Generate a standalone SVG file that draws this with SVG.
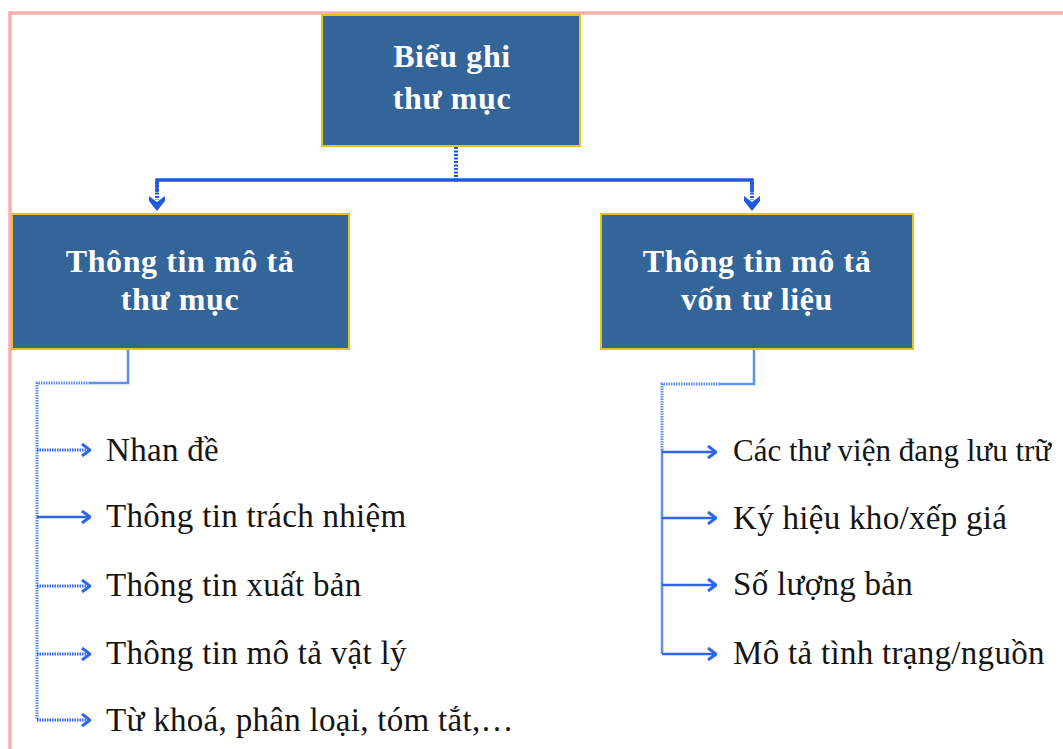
<svg xmlns="http://www.w3.org/2000/svg" width="1063" height="749" viewBox="0 0 1063 749">
<defs>
<style>
.box{fill:#336599;stroke:#e6c21a;stroke-width:2}
.bt{font-family:"Liberation Serif","Times New Roman",serif;font-size:32px;font-weight:bold;fill:#ffffff;text-anchor:middle;letter-spacing:0.6px}
.lt{font-family:"Liberation Serif","Times New Roman",serif;font-size:33px;fill:#151515;letter-spacing:0.3px}
.main{fill:none;stroke:#2158e0;stroke-width:3.5}
.stem{fill:none;stroke:#2158e0;stroke-width:4;stroke-dasharray:2 1.5}
.sub{fill:none;stroke:#5d8ff0;stroke-width:2.5}
.subd{fill:none;stroke:#5d8ff0;stroke-width:3;stroke-dasharray:1.5 1}
.br{fill:none;stroke:#2f66e8;stroke-width:2.5}
.brd{fill:none;stroke:#2f66e8;stroke-width:3;stroke-dasharray:1.5 1}
</style>
<marker id="ar" viewBox="0 0 12 14" refX="11" refY="7" markerWidth="12" markerHeight="14" markerUnits="userSpaceOnUse" orient="auto">
<path d="M3,1 L11,7 L3,13" fill="none" stroke="#2f66e8" stroke-width="3"/>
</marker>
</defs>
<rect width="1063" height="749" fill="#ffffff"/>
<path d="M10,760 L10,13 L1070,13" fill="none" stroke="#f7b0b0" stroke-width="3.5"/>

<g id="connectors">
<line class="stem" x1="456" y1="147" x2="456" y2="180"/>
<polyline class="main" points="157,192 157,180 752,180 752,192"/>
<line class="stem" x1="157" y1="182" x2="157" y2="200"/>
<line class="stem" x1="752" y1="182" x2="752" y2="200"/>
<path d="M149,196 L157,202 L165,196 L165,201 L157,211 L149,201 Z" fill="#2158e0"/>
<path d="M744,196 L752,202 L760,196 L760,201 L752,211 L744,201 Z" fill="#2158e0"/>

<polyline class="sub" points="128,349 128,383 90,383"/>
<polyline class="subd" points="90,383 37,383 37,719"/>
<line class="brd" x1="37" y1="450" x2="90" y2="450" marker-end="url(#ar)"/>
<line class="br" x1="37" y1="517" x2="90" y2="517" marker-end="url(#ar)"/>
<line class="brd" x1="37" y1="586" x2="90" y2="586" marker-end="url(#ar)"/>
<line class="brd" x1="37" y1="654" x2="90" y2="654" marker-end="url(#ar)"/>
<line class="brd" x1="37" y1="720" x2="90" y2="720" marker-end="url(#ar)"/>

<polyline class="sub" points="754,349 754,384 720,384"/>
<polyline class="subd" points="720,384 662,384 662,450"/>
<line class="sub" x1="662" y1="450" x2="662" y2="654"/>
<line class="br" x1="662" y1="452" x2="716" y2="452" marker-end="url(#ar)"/>
<line class="br" x1="662" y1="518" x2="716" y2="518" marker-end="url(#ar)"/>
<line class="br" x1="662" y1="585" x2="716" y2="585" marker-end="url(#ar)"/>
<line class="br" x1="662" y1="654" x2="716" y2="654" marker-end="url(#ar)"/>
</g>

<g id="node-root">
<rect class="box" x="322" y="15" width="258" height="131"/>
<text class="bt" x="452" y="67">Biểu ghi</text>
<text class="bt" x="452" y="109">thư mục</text>
</g>

<g id="node-left">
<rect class="box" x="12" y="214" width="337" height="135"/>
<text class="bt" x="180" y="272">Thông tin mô tả</text>
<text class="bt" x="180" y="310">thư mục</text>
</g>

<g id="node-right">
<rect class="box" x="601" y="214" width="312" height="135"/>
<text class="bt" x="757" y="272">Thông tin mô tả</text>
<text class="bt" x="757" y="310">vốn tư liệu</text>
</g>

<g id="list-left">
<text class="lt" x="106" y="461">Nhan đề</text>
<text class="lt" x="106" y="527">Thông tin trách nhiệm</text>
<text class="lt" x="106" y="596">Thông tin xuất bản</text>
<text class="lt" x="106" y="664">Thông tin mô tả vật lý</text>
<text class="lt" x="106" y="731">Từ khoá, phân loại, tóm tắt,…</text>
</g>

<g id="list-right">
<text class="lt" x="733" y="461" style="letter-spacing:0;font-size:31px">Các thư viện đang lưu trữ</text>
<text class="lt" x="733" y="529">Ký hiệu kho/xếp giá</text>
<text class="lt" x="733" y="595">Số lượng bản</text>
<text class="lt" x="733" y="664">Mô tả tình trạng/nguồn</text>
</g>
</svg>
